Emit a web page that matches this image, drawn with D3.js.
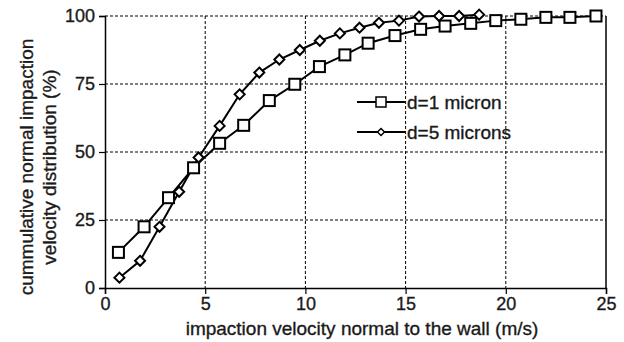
<!DOCTYPE html>
<html>
<head>
<meta charset="utf-8">
<script src="https://cdn.jsdelivr.net/npm/d3@7"></script>
<style>
  body { margin: 0; background: #fff; }
  text { font-family: "Liberation Sans", Arial, sans-serif; fill: #1a1a1a; stroke: #1a1a1a; stroke-width: 0.35px; }
</style>
</head>
<body>
<svg width="624" height="342"></svg>
<script>
// d=1 micron (squares)
const x1 = [0.67, 1.95, 3.17, 4.42, 5.72, 6.92, 8.2, 9.47, 10.7, 11.97, 13.13, 14.47, 15.75, 16.97, 18.25, 19.5, 20.75, 22.0, 23.2, 24.5];
const y1 = [13.1, 22.5, 33.2, 44.2, 53.2, 59.8, 68.9, 74.9, 81.4, 85.7, 90.0, 92.8, 95.1, 96.3, 97.3, 98.3, 98.8, 99.5, 99.5, 100];
// d=5 microns (diamonds)
const x5 = [0.72, 1.75, 2.72, 3.7, 4.67, 5.72, 6.72, 7.7, 8.7, 9.72, 10.72, 11.72, 12.7, 13.67, 14.67, 15.67, 16.67, 17.67, 18.67];
const y5 = [3.8, 10.0, 22.5, 35.4, 48.0, 59.6, 71.2, 79.2, 84.0, 87.5, 90.9, 93.6, 95.7, 97.5, 98.3, 99.8, 100, 100, 100.5];
const xTicks = [0, 5, 10, 15, 20, 25];
const yTicks = [0, 25, 50, 75, 100];
const seriesNames = ["d=1 micron", "d=5 microns"];

const svg = d3.select("svg");
const mLeft = 105, mRight = 606, mTop = 16, mBottom = 288;

const x = d3.scaleLinear().domain([0, 25]).range([mLeft, mRight]);
const y = d3.scaleLinear().domain([0, 100]).range([mBottom, mTop]);

// grid
const grid = svg.append("g")
  .attr("stroke", "#000")
  .attr("stroke-width", 1)
  .attr("stroke-dasharray", "3,2");
grid.selectAll(".gx")
  .data(xTicks.filter(d => d > 0 && d < 25))
  .enter().append("line")
  .attr("x1", d => x(d)).attr("x2", d => x(d))
  .attr("y1", mTop).attr("y2", mBottom);
grid.selectAll(".gy")
  .data(yTicks.filter(d => d > 0))
  .enter().append("line")
  .attr("y1", d => y(d)).attr("y2", d => y(d))
  .attr("x1", mLeft).attr("x2", mRight);

// right border
svg.append("line")
  .attr("x1", x(25)).attr("x2", x(25))
  .attr("y1", mTop).attr("y2", mBottom)
  .attr("stroke", "#000").attr("stroke-width", 1.5);

// axes
const xAxis = svg.append("g")
  .attr("transform", `translate(0,${mBottom})`)
  .call(d3.axisBottom(x).tickValues(xTicks).tickSize(6).tickPadding(3));
const yAxis = svg.append("g")
  .attr("transform", `translate(${mLeft},0)`)
  .call(d3.axisLeft(y).tickValues(yTicks).tickSize(6).tickPadding(4));
[xAxis, yAxis].forEach(a => {
  a.select(".domain").attr("stroke", "#000").attr("stroke-width", 1.5);
  a.selectAll(".tick line").attr("stroke", "#000").attr("stroke-width", 1.2);
  a.selectAll(".tick text")
    .style("font-family", "'Liberation Sans', Arial, sans-serif")
    .style("font-size", "18px")
    .attr("fill", "#1a1a1a");
});

// lines
const line = d3.line().x(d => x(d[0])).y(d => y(d[1]));
const d1 = x1.map((v, i) => [v, y1[i]]);
const d5 = x5.map((v, i) => [v, y5[i]]);

svg.append("path").datum(d1).attr("d", line)
  .attr("fill", "none").attr("stroke", "#000").attr("stroke-width", 2);
svg.append("path").datum(d5).attr("d", line)
  .attr("fill", "none").attr("stroke", "#000").attr("stroke-width", 2);

const sq = 11;
svg.selectAll(".sq").data(d1).enter().append("rect")
  .attr("x", d => x(d[0]) - sq / 2).attr("y", d => y(d[1]) - sq / 2)
  .attr("width", sq).attr("height", sq)
  .attr("fill", "#fff").attr("stroke", "#000").attr("stroke-width", 2);

const dm = 5;
svg.selectAll(".dm").data(d5).enter().append("path")
  .attr("d", d => {
    const cx = x(d[0]), cy = y(d[1]);
    return `M${cx},${cy - dm}L${cx + dm},${cy}L${cx},${cy + dm}L${cx - dm},${cy}Z`;
  })
  .attr("fill", "#fff").attr("stroke", "#000").attr("stroke-width", 2);

// legend
const legY = [102, 132];
const leg = svg.append("g");
legY.forEach((ly, i) => {
  leg.append("line").attr("x1", 357).attr("x2", 405).attr("y1", ly).attr("y2", ly)
    .attr("stroke", "#000").attr("stroke-width", 2);
  if (i === 0) {
    leg.append("rect").attr("x", 381 - 5).attr("y", ly - 5).attr("width", 10).attr("height", 10)
      .attr("fill", "#fff").attr("stroke", "#000").attr("stroke-width", 1.5);
  } else {
    leg.append("path").attr("d", `M381,${ly - 3.5}L384.5,${ly}L381,${ly + 3.5}L377.5,${ly}Z`)
      .attr("fill", "#fff").attr("stroke", "#000").attr("stroke-width", 1.5);
  }
  leg.append("text").attr("x", 407).attr("y", ly + 7)
    .style("font-size", "19px").text(seriesNames[i]);
});

// axis titles
svg.append("text")
  .attr("x", 362).attr("y", 335)
  .attr("text-anchor", "middle")
  .style("font-size", "19px")
  .text("impaction velocity normal to the wall (m/s)");

const yt = svg.append("text")
  .attr("transform", "translate(0,167) rotate(-90)")
  .attr("text-anchor", "middle")
  .style("font-size", "19px");
yt.append("tspan").attr("x", 0).attr("y", 33).text("cummulative normal impaction");
yt.append("tspan").attr("x", 0).attr("y", 56).text("velocity  distribution (%)");
</script>
</body>
</html>
